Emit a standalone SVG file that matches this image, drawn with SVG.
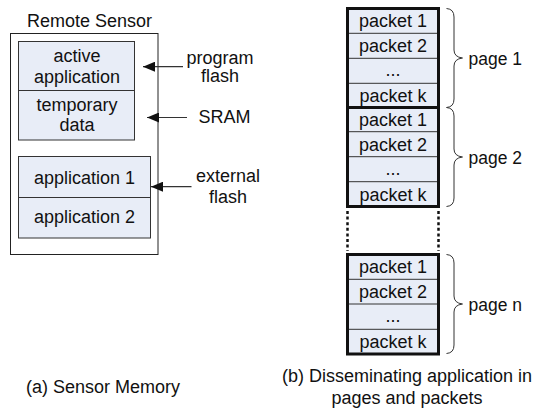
<svg xmlns="http://www.w3.org/2000/svg" width="535" height="414" viewBox="0 0 535 414">
  <style>
    text { font-family: "Liberation Sans", Arial, sans-serif; font-size: 18px; fill: #111; }
    .c { text-anchor: middle; }
    .pg { font-size: 17.5px; }
    .cell { fill: #E8EDF7; stroke: #333; stroke-width: 1; }
    .outer { fill: #fff; stroke: #222; stroke-width: 1; }
    .page { fill: none; stroke: #111; stroke-width: 3; }
    .div { stroke: #333; stroke-width: 1; }
    .brace { fill: none; stroke: #333; stroke-width: 1; }
    .arrow { stroke: #333; stroke-width: 1.2; fill: none; marker-end: url(#head); }
    .dots { stroke: #111; stroke-width: 2.5; stroke-dasharray: 3 2.6; fill: none; }
  </style>
  <defs>
    <marker id="head" markerUnits="userSpaceOnUse" markerWidth="13" markerHeight="10" refX="12" refY="5" orient="auto">
      <path d="M0,0 L12,5 L0,10 z" fill="#111"/>
    </marker>
  </defs>

  <rect width="535" height="414" fill="#fff"/>

  <!-- Left: memory layout of the sensor -->
  <g id="remote-sensor">
    <text class="c" x="89.5" y="26.5">Remote Sensor</text>
    <rect class="outer" x="10.5" y="33.5" width="147.5" height="221"/>
  </g>

  <g id="internal-memory">
    <rect class="cell" x="18.5" y="41.5" width="116" height="98.5"/>
    <line class="div" x1="18.5" y1="90.5" x2="134.5" y2="90.5"/>
    <text class="c" x="77" y="62">active</text>
    <text class="c" x="77" y="82.5">application</text>
    <text class="c" x="77" y="110.5">temporary</text>
    <text class="c" x="77" y="130.5">data</text>
  </g>

  <g id="external-memory">
    <rect class="cell" x="18.5" y="156.5" width="132" height="81.5"/>
    <line class="div" x1="18.5" y1="197.5" x2="150.5" y2="197.5"/>
    <text class="c" x="84.5" y="183.5">application 1</text>
    <text class="c" x="84.5" y="223">application 2</text>
  </g>

  <g id="memory-labels">
    <text class="c" x="220" y="63.5">program</text>
    <text class="c" x="220" y="82">flash</text>
    <text class="c" x="224.5" y="123">SRAM</text>
    <text class="c" x="228" y="182">external</text>
    <text class="c" x="228" y="203">flash</text>
  </g>

  <!-- Right: application split into pages of packets -->
  <g id="page-1">
    <rect class="cell" x="347.5" y="8.5" width="91" height="99" stroke="none"/>
    <line class="div" x1="347.5" y1="33.3" x2="438.5" y2="33.3"/>
    <line class="div" x1="347.5" y1="58.3" x2="438.5" y2="58.3"/>
    <line class="div" x1="347.5" y1="83.3" x2="438.5" y2="83.3"/>
    <rect class="page" x="347.5" y="8.5" width="91" height="99"/>
    <text class="c" x="393" y="27">packet 1</text>
    <text class="c" x="393" y="52">packet 2</text>
    <text class="c" x="393" y="76">...</text>
    <text class="c" x="393" y="101.5">packet k</text>
  </g>

  <g id="page-2">
    <rect class="cell" x="347.5" y="107.5" width="91" height="99" stroke="none"/>
    <line class="div" x1="347.5" y1="131.7" x2="438.5" y2="131.7"/>
    <line class="div" x1="347.5" y1="156.7" x2="438.5" y2="156.7"/>
    <line class="div" x1="347.5" y1="181.7" x2="438.5" y2="181.7"/>
    <rect class="page" x="347.5" y="107.5" width="91" height="99"/>
    <text class="c" x="393" y="126">packet 1</text>
    <text class="c" x="393" y="150.5">packet 2</text>
    <text class="c" x="393" y="175">...</text>
    <text class="c" x="393" y="200.5">packet k</text>
  </g>

  <g id="page-n">
    <rect class="cell" x="347.5" y="254.5" width="91" height="99.5" stroke="none"/>
    <line class="div" x1="347.5" y1="279.3" x2="438.5" y2="279.3"/>
    <line class="div" x1="347.5" y1="304" x2="438.5" y2="304"/>
    <line class="div" x1="347.5" y1="329.3" x2="438.5" y2="329.3"/>
    <rect class="page" x="347.5" y="254.5" width="91" height="99.5"/>
    <text class="c" x="393" y="273">packet 1</text>
    <text class="c" x="393" y="297.5">packet 2</text>
    <text class="c" x="393" y="322">...</text>
    <text class="c" x="393" y="348">packet k</text>
  </g>

  <g id="page-braces">
    <path class="brace" d="M446.5,8.5 Q454,9 454,17 L454,50 Q454,57 462.5,58 Q454,59 454,66 L454,99 Q454,107 446.5,107.5"/>
    <path class="brace" d="M446.5,107.5 Q454,108 454,116 L454,149 Q454,156 462.5,157 Q454,158 454,165 L454,198 Q454,206 446.5,206.5"/>
    <path class="brace" d="M446.5,254.5 Q454,255 454,263 L454,296 Q454,303 462.5,304 Q454,305 454,312 L454,345 Q454,353 446.5,353.5"/>
    <text class="pg" x="468.5" y="65">page 1</text>
    <text class="pg" x="468.5" y="164">page 2</text>
    <text class="pg" x="468.5" y="311">page n</text>
  </g>

  <g id="connectors">
    <line class="arrow" x1="183" y1="66.7" x2="143" y2="66.7"/>
    <line class="arrow" x1="187" y1="117.5" x2="147" y2="117.5"/>
    <line class="arrow" x1="191.5" y1="186.7" x2="151" y2="186.7"/>
    <line class="dots" x1="347.5" y1="211" x2="347.5" y2="251"/>
    <line class="dots" x1="438.5" y1="211" x2="438.5" y2="251"/>
  </g>

  <g id="captions">
    <text x="26" y="392.5">(a) Sensor Memory</text>
    <text class="c" x="407" y="381.5">(b) Disseminating application in</text>
    <text class="c" x="407" y="403.5">pages and packets</text>
  </g>
</svg>
